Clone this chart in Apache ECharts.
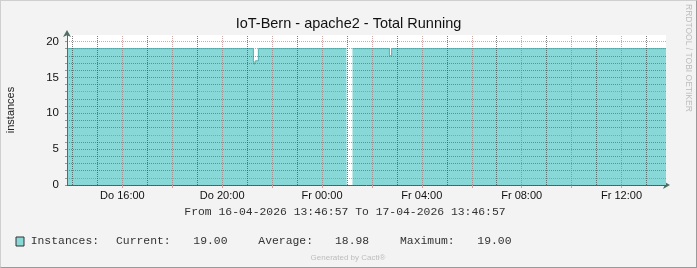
<!DOCTYPE html>
<html>
<head>
<meta charset="utf-8">
<script src="https://cdn.jsdelivr.net/npm/echarts@6/dist/echarts.min.js"></script>
<style>
html,body{margin:0;padding:0;background:#F3F3F3;}
#chart{position:absolute;left:0;top:0;width:697px;height:268px;}
#frame{position:absolute;left:0;top:0;width:695px;height:266px;border-top:1px solid #CFCFCF;border-left:1px solid #CFCFCF;border-right:1px solid #9A9A9A;border-bottom:1px solid #9A9A9A;pointer-events:none;}
</style>
</head>
<body>
<div id="chart"></div>
<div id="frame"></div>
<script>
// ---- data (hours since Thu 16-04-2026 00:00) ----
const rangeStart = 13.7825;   // 13:46:57
const rangeEnd = 37.7825;     // next day 13:46:57
const sampleHours  = [13.7825, 21.25, 21.29, 21.33, 21.45, 24.98, 24.99, 25.22, 26.70, 26.79, 37.7825];
const sampleValues = [19,      17.3,  16.8,  17.3,  19,    19,    null,  19,    18,    19,    19];

const xLabelHours = [16, 20, 24, 28, 32, 36];
const xLabelTexts = ['Do 16:00', 'Do 20:00', 'Fr 00:00', 'Fr 04:00', 'Fr 08:00', 'Fr 12:00'];
const xMajorHours = [16, 18, 20, 22, 24, 26, 28, 30, 32, 34, 36];
const xMinorHours = [14, 15, 17, 19, 21, 23, 25, 27, 29, 31, 33, 35, 37];
const yLabelValues = [0, 5, 10, 15, 20];
const yMinorValues = [1,2,3,4,6,7,8,9,11,12,13,14,16,17,18,19];

const titleText = 'IoT-Bern - apache2 - Total Running';
const yAxisTitle = 'instances';
const rangeText = 'From 16-04-2026 13:46:57 To 17-04-2026 13:46:57';
const legendParts = ['Instances:', 'Current:', '19.00', 'Average:', '18.98', 'Maximum:', '19.00'];
const legendX = [30.7, 116, 193.3, 258.3, 335, 400, 477.3];

const seriesData = sampleHours.map((h, i) => [h, sampleValues[i]]);
const labelMap = {};
xLabelHours.forEach((h, i) => labelMap[h] = xLabelTexts[i]);

const minorStyle = {color: 'rgba(70,70,70,0.7)', type: [1, 1], width: 1};
const majorStyle = {color: 'rgba(175,105,105,0.6)', type: [1, 1], width: 1};
const minorColor = 'rgba(80,80,80,0.55)';
const majorColor = 'rgba(200,100,100,0.6)';

const gridLines = []
  .concat(xMinorHours.map(h => ({xAxis: h, lineStyle: minorStyle})))
  .concat(xMajorHours.map(h => ({xAxis: h, lineStyle: majorStyle})));

const mono = '11.4px "Liberation Mono", monospace';
const graphics = [
  {type: 'text', style: {text: yAxisTitle, x: 11, y: 110, font: '11px "Liberation Sans", Arial, sans-serif', fill: '#222', align: 'center', verticalAlign: 'middle', textAlign: 'center', textVerticalAlign: 'middle'}, rotation: Math.PI / 2, originX: 11, originY: 110},
  {type: 'text', style: {text: 'RRDTOOL / TOBI OETIKER', x: 688, y: 4, font: '8.5px "Liberation Sans", Arial, sans-serif', fill: '#BDBDBD', align: 'left', verticalAlign: 'middle', textAlign: 'left', textVerticalAlign: 'middle'}, rotation: -Math.PI / 2, originX: 688, originY: 4},
  {type: 'text', style: {text: rangeText, x: 184.3, y: 212.3, font: mono, fill: '#333', verticalAlign: 'middle', textVerticalAlign: 'middle'}},
  {type: 'rect', shape: {x: 16, y: 237, width: 8, height: 9}, style: {fill: '#88D8D8', stroke: '#333', lineWidth: 1}},
  {type: 'text', style: {text: 'Generated by Cacti®', x: 348, y: 257.3, font: '8px "Liberation Sans", Arial, sans-serif', fill: '#BDBDBD', align: 'center', verticalAlign: 'middle', textAlign: 'center', textVerticalAlign: 'middle'}}
];
legendParts.forEach((t, i) => graphics.push({type: 'text', style: {text: t, x: legendX[i], y: 240.5, font: mono, fill: '#333', verticalAlign: 'middle', textVerticalAlign: 'middle'}}));

const chart = echarts.init(document.getElementById('chart'), null, {renderer: 'canvas'});
chart.setOption({
  animation: false,
  backgroundColor: 'transparent',
  title: {text: titleText, left: 'center', top: 11, textStyle: {fontFamily: '"Liberation Sans", Arial, sans-serif', fontSize: 14.5, fontWeight: 'normal', color: '#111'}},
  grid: {left: 67, right: 31, top: 35, bottom: 83, show: true, backgroundColor: '#FFFFFF', borderWidth: 0},
  xAxis: {
    type: 'value', min: rangeStart, max: rangeEnd,
    splitLine: {show: false},
    axisLine: {show: true, lineStyle: {color: '#4F6E66', width: 1}, symbol: ['none', 'arrow'], symbolSize: [6, 7], symbolOffset: [0, 4]},
    axisTick: {show: true, customValues: xMajorHours, length: 3, lineStyle: {color: '#E09A9A'}},
    axisLabel: {customValues: xLabelHours, formatter: v => labelMap[Math.round(v)] || '', fontFamily: '"Liberation Sans", Arial, sans-serif', fontSize: 11, color: '#111', margin: 5}
  },
  yAxis: {
    type: 'value', min: 0, max: 20.9, interval: 1,
    z: 10,
    splitLine: {show: true, lineStyle: {color: [majorColor, minorColor, minorColor, minorColor, minorColor], type: [1, 1], width: 1}},
    axisLine: {show: true, lineStyle: {color: '#4F6E66', width: 1}, symbol: ['none', 'arrow'], symbolSize: [6, 7], symbolOffset: [0, 5]},
    axisTick: {show: true, customValues: yMinorValues.concat(yLabelValues), length: 2, lineStyle: {color: '#999'}},
    axisLabel: {customValues: yLabelValues, fontFamily: '"Liberation Sans", Arial, sans-serif', fontSize: 11.5, color: '#111', margin: 8}
  },
  series: [
    {
      type: 'line', data: seriesData, step: 'end', showSymbol: false, connectNulls: false, z: 2,
      lineStyle: {color: '#52AFAF', width: 1},
      areaStyle: {color: '#88D8D8', opacity: 1}
    },
    {
      type: 'line', data: [], z: 5, silent: true,
      markLine: {silent: true, z: 10, symbol: ['none', 'none'], label: {show: false}, animation: false, data: gridLines}
    }
  ],
  graphic: graphics
});
</script>
</body>
</html>
